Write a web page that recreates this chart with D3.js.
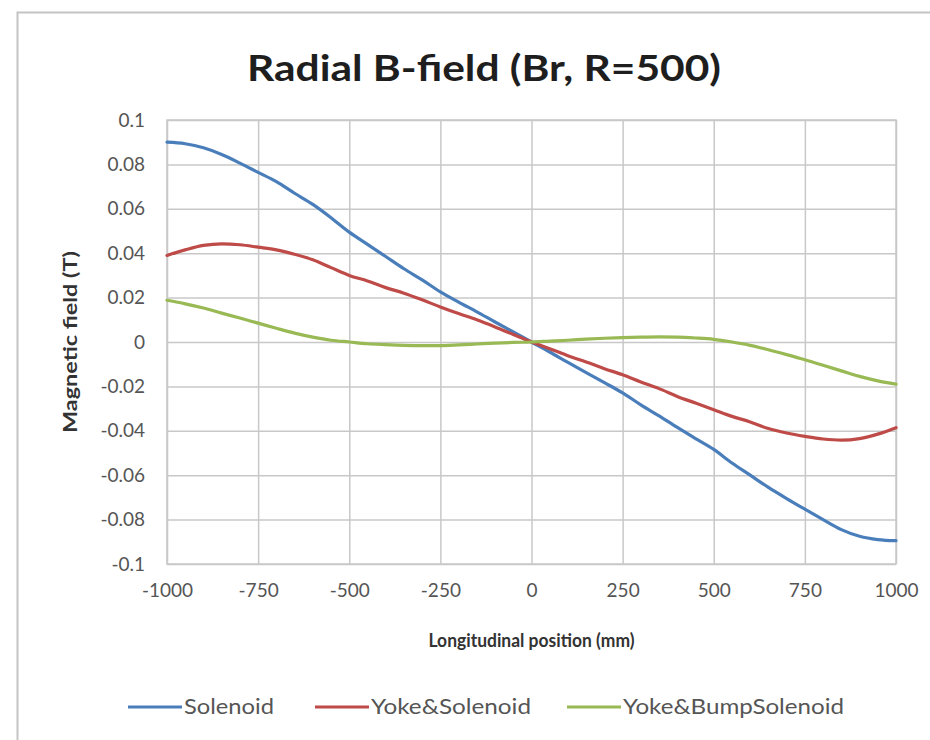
<!DOCTYPE html>
<html>
<head>
<meta charset="utf-8">
<script src="https://cdn.jsdelivr.net/npm/d3@7"></script>
<style>
  html, body { margin: 0; padding: 0; background: #fff; }
  text { font-family: Lato, "Open Sans", sans-serif; }
</style>
</head>
<body>
<div id="chart"></div>
<script>
// ---------------------------//
//       DATA                 //
// ---------------------------//

const positions = [-1000, -950, -900, -850, -800, -750, -700, -650, -600, -550, -500,
    -450, -400, -350, -300, -250, -200, -150, -100, -50, 0,
    50, 100, 150, 200, 250, 300, 350, 400, 450, 500,
    550, 600, 650, 700, 750, 800, 850, 900, 950, 1000];

const solenoid = [0.0900, 0.0893, 0.0875, 0.0845, 0.0806, 0.0764, 0.0722, 0.0670, 0.0620, 0.0560, 0.0495,
    0.0440, 0.0385, 0.0330, 0.0280, 0.0226, 0.0180, 0.0136, 0.0090, 0.0045, 0,
    -0.0045, -0.0092, -0.0138, -0.0183, -0.0229, -0.0283, -0.0333, -0.0385, -0.0435, -0.0484,
    -0.0545, -0.0600, -0.0655, -0.0705, -0.0753, -0.0800, -0.0845, -0.0875, -0.0890, -0.0895];

const yokeSolenoid = [0.0390, 0.0415, 0.0435, 0.0442, 0.0438, 0.0427, 0.0415, 0.0395, 0.0370, 0.0335, 0.0300,
    0.0275, 0.0245, 0.0220, 0.0190, 0.0158, 0.0128, 0.0100, 0.0068, 0.0034, 0,
    -0.0030, -0.0062, -0.0090, -0.0120, -0.0148, -0.0180, -0.0210, -0.0245, -0.0275, -0.0305,
    -0.0335, -0.0360, -0.0390, -0.0410, -0.0425, -0.0437, -0.0442, -0.0435, -0.0415, -0.0386];

const yokeBumpSolenoid = [0.0188, 0.0172, 0.0153, 0.0130, 0.0108, 0.0085, 0.0062, 0.0040, 0.0022, 0.0008, 0.0000,
    -0.0008, -0.0012, -0.0015, -0.0016, -0.0016, -0.0013, -0.0009, -0.0005, -0.0002, 0,
    0.0004, 0.0008, 0.0013, 0.0017, 0.0020, 0.0022, 0.0023, 0.0022, 0.0018, 0.0012,
    0.0000, -0.0015, -0.0035, -0.0057, -0.0080, -0.0105, -0.0130, -0.0155, -0.0175, -0.0190];

const seriesNames = ["Solenoid", "Yoke&Solenoid", "Yoke&BumpSolenoid"];
const seriesColors = ["#4a7ebb", "#be4b48", "#98b954"];

const xTicks = [-1000, -750, -500, -250, 0, 250, 500, 750, 1000];
const xTickLabels = ["-1000", "-750", "-500", "-250", "0", "250", "500", "750", "1000"];
const yTicks = [0.1, 0.08, 0.06, 0.04, 0.02, 0, -0.02, -0.04, -0.06, -0.08, -0.1];
const yTickLabels = ["0.1", "0.08", "0.06", "0.04", "0.02", "0", "-0.02", "-0.04", "-0.06", "-0.08", "-0.1"];

// ---------------------------//
//       SET  CANVAS          //
// ---------------------------//

const W = 930, H = 740;
const plot = {left: 167, right: 896, top: 120, bottom: 564};

const svg = d3.select("#chart")
    .append("svg")
    .attr("width", W)
    .attr("height", H);

// chart area border (only top and left visible in the photo)
svg.append("path")
    .attr("d", `M17.5,${H} L17.5,12.5 L${W},12.5`)
    .attr("fill", "none")
    .attr("stroke", "#c4c4c4")
    .attr("stroke-width", 2);

// ---------------------------//
//       AXIS  AND SCALE      //
// ---------------------------//

const x = d3.scaleLinear()
    .domain([-1000, 1000])
    .range([plot.left, plot.right]);

const y = d3.scaleLinear()
    .domain([-0.1, 0.1])
    .range([plot.bottom, plot.top]);

// vertical gridlines + x labels
const xAxis = svg.append("g")
    .attr("transform", `translate(0,${plot.bottom})`)
    .call(d3.axisBottom(x)
        .tickValues(xTicks)
        .tickFormat((d, i) => xTickLabels[i])
        .tickSize(-(plot.bottom - plot.top))
        .tickPadding(20));

xAxis.select(".domain").remove();
xAxis.selectAll("line")
    .attr("stroke", "#c8c8c8")
    .attr("stroke-width", 1.5);
xAxis.selectAll("text")
    .attr("fill", "#555")
    .style("font-size", "19px");

// horizontal gridlines + y labels
const yAxis = svg.append("g")
    .attr("transform", `translate(${plot.left},0)`)
    .call(d3.axisLeft(y)
        .tickValues(yTicks)
        .tickFormat((d, i) => yTickLabels[i])
        .tickSize(-(plot.right - plot.left))
        .tickPadding(22));

yAxis.select(".domain").remove();
yAxis.selectAll("line")
    .attr("stroke", "#c8c8c8")
    .attr("stroke-width", 1.5);
yAxis.selectAll("text")
    .attr("fill", "#555")
    .style("font-size", "19px");

// plot area outline
svg.append("rect")
    .attr("x", plot.left)
    .attr("y", plot.top)
    .attr("width", plot.right - plot.left)
    .attr("height", plot.bottom - plot.top)
    .attr("fill", "none")
    .attr("stroke", "#c8c8c8")
    .attr("stroke-width", 1.5);

// ---------------------------//
//       LINES                //
// ---------------------------//

const allSeries = [solenoid, yokeSolenoid, yokeBumpSolenoid];

const line = d3.line()
    .x((d, i) => x(positions[i]))
    .y(d => y(d))
    .curve(d3.curveMonotoneX);

svg.selectAll(".series")
    .data(allSeries)
    .enter()
    .append("path")
    .attr("class", "series")
    .attr("d", d => line(d))
    .attr("fill", "none")
    .attr("stroke", (d, i) => seriesColors[i])
    .attr("stroke-width", 3.2)
    .attr("stroke-linejoin", "round")
    .attr("stroke-linecap", "round");

// ---------------------------//
//       TITLES               //
// ---------------------------//

svg.append("text")
    .attr("x", 484)
    .attr("y", 81)
    .attr("text-anchor", "middle")
    .attr("fill", "#1e1e1e")
    .attr("textLength", 474)
    .attr("lengthAdjust", "spacingAndGlyphs")
    .style("font-size", "37px")
    .style("font-weight", "bold")
    .text("Radial B-field (Br, R=500)");

svg.append("text")
    .attr("x", (plot.left + plot.right) / 2)
    .attr("y", 647)
    .attr("text-anchor", "middle")
    .attr("fill", "#333")
    .attr("textLength", 206)
    .attr("lengthAdjust", "spacingAndGlyphs")
    .style("font-size", "18px")
    .style("font-weight", "bold")
    .text("Longitudinal position (mm)");

svg.append("text")
    .attr("transform", `translate(77,${(plot.top + plot.bottom) / 2}) rotate(-90)`)
    .attr("text-anchor", "middle")
    .attr("fill", "#333")
    .attr("textLength", 182)
    .attr("lengthAdjust", "spacingAndGlyphs")
    .style("font-size", "18px")
    .style("font-weight", "bold")
    .text("Magnetic field (T)");

// ---------------------------//
//       LEGEND               //
// ---------------------------//

const legendX = [128, 315, 567];
const legendWidths = [90, 160, 221];
const legendY = 707;

const legend = svg.selectAll(".legend")
    .data(seriesNames)
    .enter()
    .append("g")
    .attr("class", "legend")
    .attr("transform", (d, i) => `translate(${legendX[i]},${legendY})`);

legend.append("line")
    .attr("x1", 0)
    .attr("x2", 54)
    .attr("y1", 0)
    .attr("y2", 0)
    .attr("stroke", (d, i) => seriesColors[i])
    .attr("stroke-width", 3.2);

legend.append("text")
    .attr("x", 56)
    .attr("y", 0)
    .attr("dy", "0.35em")
    .attr("fill", "#555")
    .attr("textLength", (d, i) => legendWidths[i])
    .attr("lengthAdjust", "spacingAndGlyphs")
    .style("font-size", "21px")
    .text(d => d);
</script>
</body>
</html>
